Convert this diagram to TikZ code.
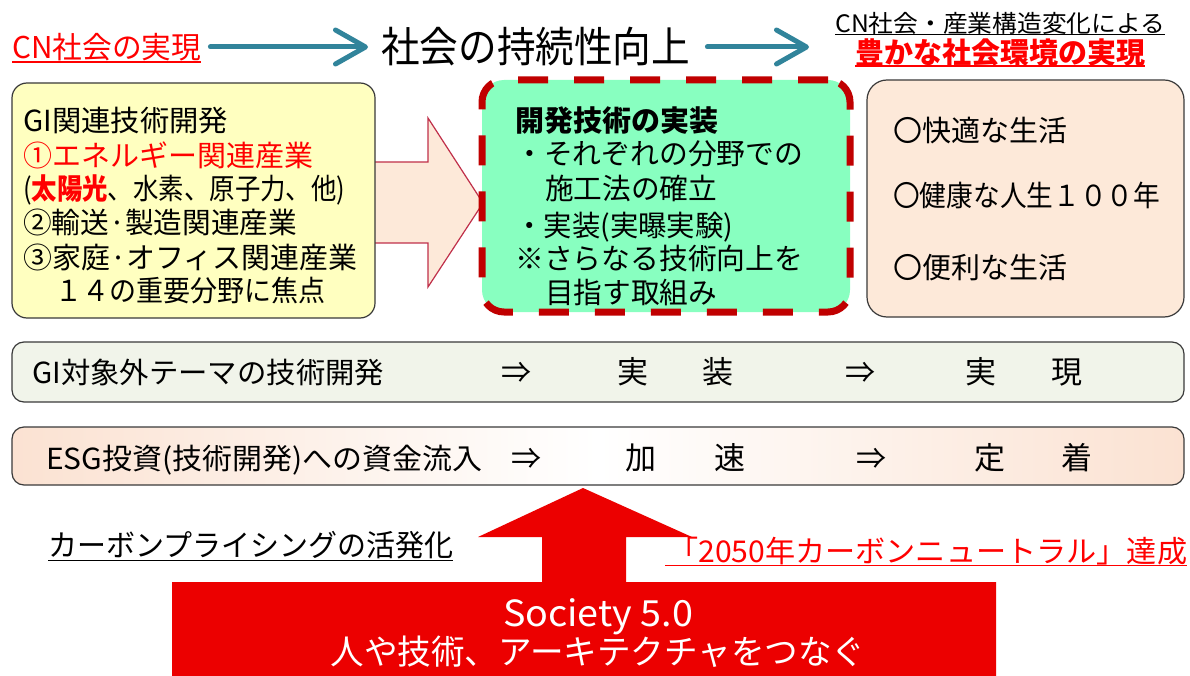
\documentclass[tikz,border=0pt]{standalone}
\usepackage{fontspec}
\setmainfont{Noto Sans CJK JP}
\usetikzlibrary{arrows.meta}
\definecolor{tealarr}{HTML}{31849B}
\definecolor{tred}{HTML}{FF0000}
\definecolor{yfill}{HTML}{FFFFC0}
\definecolor{gfill}{HTML}{88FFC0}
\definecolor{peach}{HTML}{FDE9D9}
\definecolor{rowa}{HTML}{F1F4EA}
\definecolor{rowb}{HTML}{FBE2D2}
\definecolor{dashred}{HTML}{C00000}
\definecolor{bigred}{HTML}{EC0000}
\definecolor{pinkedge}{HTML}{C0304A}
\definecolor{edge}{HTML}{3A3A3A}
\newcommand\fw[2]{\resizebox{#1pt}{\height}{#2}}
\newcommand\fs[1]{\fontsize{#1pt}{#1pt}\selectfont}
\begin{document}
\begin{tikzpicture}[x=1pt,y=-1pt,
  tx/.style={inner sep=0pt,anchor=base west,font=\fs{#1},yshift={-0.38*#1pt}},
  ctx/.style={inner sep=0pt,anchor=base,font=\fs{#1},yshift={-0.38*#1pt}},
  box/.style={draw=edge,line width=1.2pt,rectangle,inner sep=0pt},
  tarrow/.style={draw=tealarr,line width=5pt,line cap=round,-{Straight Barb[length=30pt,width=34pt,round]}},
  uline/.style={line width=1.5pt}]
\useasboundingbox (0,0) rectangle (1190,676);
\fill[white] (0,0) rectangle (1190,676);

% top line
\node[tx=30,text=tred] (cn) at (12,47) {\fw{189}{CN社会の実現}};
\node[tx=42] (title) at (381,47) {\fw{309}{社会の持続性向上}};
\node[tx=24] (rt1) at (835,23.5) {\fw{330}{CN社会・産業構造変化による}};
\node[tx=29,text=tred] (rt2) at (855,52) {\fw{290}{\bfseries 豊かな社会環境の実現}};
\draw[uline,tred] ([yshift=-3.6pt]cn.base west) -- ([yshift=-3.6pt]cn.base east);
\draw[uline,black] ([yshift=-1.8pt]rt1.base west) -- ([yshift=-1.8pt]rt1.base east);
\draw[uline,tred] ([yshift=-3pt]rt2.base west) -- ([yshift=-3pt]rt2.base east);
\coordinate (a2end) at (809,47);
\draw[tarrow,shorten <=9pt,shorten >=13pt] (cn.east |- 0,47) -- (title.west |- 0,47);
\draw[tarrow,shorten <=17pt] (title.east |- 0,47) -- (a2end);

% pink block arrow
\draw[fill=peach,draw=pinkedge,line width=1.2pt,line join=miter]
  (370,162) -- (428,162) -- (428,118) -- (483,203) -- (428,287) -- (428,243) -- (370,243);

% three boxes
\node[box,fill=yfill,rounded corners=15pt,minimum width=363pt,minimum height=235pt] (ybox) at (193.5,200.5) {};
\node[rectangle,fill=gfill,draw=dashred,line width=7pt,dash pattern=on 30pt off 26pt,rounded corners=22pt,minimum width=368pt,minimum height=232pt] (gbox) at (666,196) {};
\node[box,fill=peach,rounded corners=20pt,minimum width=317pt,minimum height=237pt] (rbox) at (1025.5,198.5) {};

% yellow box text
\node[tx=29] (y1) at (23,120) {\fw{205}{GI関連技術開発}};
\node[tx=29,text=tred] (y2) at (23,155) {\fw{290}{①エネルギー関連産業}};
\node[tx=29] (y3) at (23,188) {\fw{322}{(\textcolor{tred}{\bfseries 太陽光}、水素、原子力、他)}};
\node[tx=29] (y4) at (23,222) {\fw{274}{②輸送·製造関連産業}};
\node[tx=29] (y5) at (23,257) {\fw{334}{③家庭·オフィス関連産業}};
\node[tx=29] (y6) at (55,290) {\fw{270}{１４の重要分野に焦点}};

% green box text
\node[tx=29] (g1) at (515,120) {\fw{203}{\bfseries 開発技術の実装}};
\node[tx=29] (g2) at (515,153) {\fw{288}{・それぞれの分野での}};
\node[tx=29] (g3) at (545,188) {\fw{172}{施工法の確立}};
\node[tx=29] (g4) at (515,225) {\fw{218}{・実装(実曝実験)}};
\node[tx=29] (g5) at (515,258) {\fw{288}{※さらなる技術向上を}};
\node[tx=29] (g6) at (545,292) {\fw{172}{目指す取組み}};

% right box text
\node[tx=29] (r1) at (893,130) {\fw{174}{〇快適な生活}};
\node[tx=29] (r2) at (893,195) {\fw{267}{〇健康な人生１００年}};
\node[tx=29] (r3) at (893,267) {\fw{174}{〇便利な生活}};

% row 1
\node[box,fill=rowa,rounded corners=12pt,minimum width=1172pt,minimum height=60pt] (row1) at (598,372) {};
\node[tx=29] (a1) at (32,372) {\fw{352}{GI対象外テーマの技術開発}};
\node[ctx=30] (a2) at (516,372) {⇒};
\node[ctx=31] (a3) at (633,372) {実};
\node[ctx=31] (a4) at (718,372) {装};
\node[ctx=30] (a5) at (860,372) {⇒};
\node[ctx=31] (a6) at (981,372) {実};
\node[ctx=31] (a7) at (1067,372) {現};

% row 2
\node[box,left color=rowb,right color=rowb,middle color=white,rounded corners=12pt,minimum width=1172pt,minimum height=58pt] (row2) at (598,456) {};
\node[tx=29] (b1) at (46,458) {\fw{436}{ESG投資(技術開発)への資金流入}};
\node[ctx=30] (b2) at (526,458) {⇒};
\node[ctx=31] (b3) at (641,458) {加};
\node[ctx=31] (b4) at (730,458) {速};
\node[ctx=30] (b5) at (871,458) {⇒};
\node[ctx=31] (b6) at (990,458) {定};
\node[ctx=31] (b7) at (1077,458) {着};

% big red arrow with base box
\fill[bigred] (172,582) -- (542,582) -- (542,537) -- (478,537) -- (583,488) -- (692,537)
  -- (626,537) -- (626,582) -- (996,582) -- (996,676) -- (172,676) -- cycle;
\node[ctx=36,text=white] (soc) at (598,613) {\fw{190}{Society 5.0}};
\node[ctx=34,text=white] (soc2) at (598,652) {\fw{535}{人や技術、アーキテクチャをつなぐ}};

% bottom labels
\node[tx=30] (cp) at (48,545) {\fw{405}{カーボンプライシングの活発化}};
\draw[uline,black] ([yshift=-4pt]cp.base west) -- ([yshift=-4pt]cp.base east);
\node[tx=30,text=tred] (cn50) at (668,551) {\fw{519}{「2050年カーボンニュートラル」達成}};
\draw[uline,tred] ([xshift=-3pt,yshift=-3pt]cn50.base west) -- ([yshift=-3pt]cn50.base east);
\end{tikzpicture}
\end{document}
